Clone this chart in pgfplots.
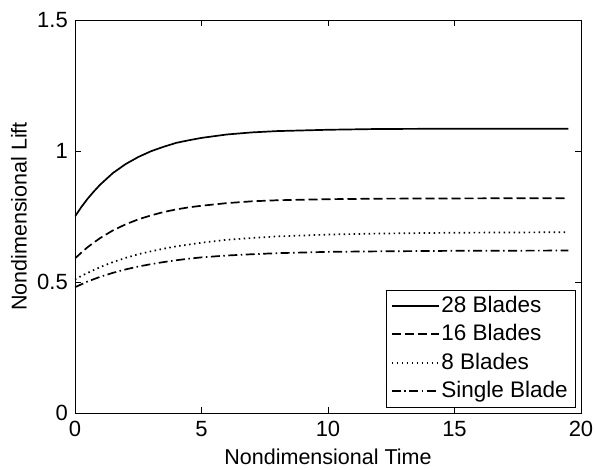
\documentclass[border=0pt]{standalone}
\usepackage{fontspec}
\setmainfont{Liberation Sans}
\usepackage{pgfplots}
\pgfplotsset{compat=1.18}
\begin{document}
\fontsize{21}{25}\selectfont
\begin{tikzpicture}
\begin{axis}[
  name=main,
  scale only axis,
  width=506pt, height=393pt,
  xmin=0, xmax=20, ymin=0, ymax=1.5,
  xtick={0,5,10,15,20}, ytick={0,0.5,1,1.5},
  tick align=inside,
  major tick length=6pt,
  tick style={black, line width=0.7pt},
  axis line style={line width=0.9pt},
  /pgf/number format/assume math mode=true,
  xticklabel style={font=\fontsize{22}{26}\selectfont, inner sep=0pt, yshift=-8pt},
  yticklabel style={font=\fontsize{22}{26}\selectfont, inner sep=0pt, xshift=-7pt},
  xlabel={\fontsize{21.5}{25}\selectfont Nondimensional Time},
  ylabel={\fontsize{21.5}{25}\selectfont Nondimensional Lift},
  xlabel style={at={(axis description cs:0.5,-0.1323)}, anchor=south, inner sep=0pt},
  ylabel style={at={(axis description cs:-0.0949,0.5)}, anchor=south, inner sep=0pt},
  legend cell align=left,
  legend style={at={(rel axis cs:0.988,0.015)}, anchor=south east,
    font=\fontsize{22.5}{26}\selectfont, draw=black,
    row sep=5pt, inner sep=4pt, inner xsep=5pt},
  legend image code/.code={\draw[#1] (0cm,0cm) -- (1.65cm,0cm);},
]
\addplot[black, line width=1.7pt, solid] coordinates {
(0,0.750) (0.25,0.786) (0.5,0.818) (0.75,0.846) (1,0.872) (1.5,0.916) (2,0.950) (2.5,0.977) (3,0.999) (3.5,1.016) (4,1.031) (4.5,1.041) (5,1.050) (6,1.063) (7,1.071) (8,1.076) (10,1.081) (12,1.084) (15,1.085) (19.5,1.085)};
\addlegendentry{28 Blades}
\addplot[black, line width=1.7pt, dash pattern=on 9pt off 4pt] coordinates {
(0,0.590) (0.25,0.612) (0.5,0.633) (0.75,0.651) (1,0.668) (1.5,0.697) (2,0.720) (2.5,0.739) (3,0.754) (3.5,0.767) (4,0.777) (4.5,0.785) (5,0.791) (6,0.801) (7,0.808) (8,0.812) (10,0.816) (12,0.818) (15,0.819) (19.5,0.820)};
\addlegendentry{16 Blades}
\addplot[black, line width=1.7pt, dash pattern=on 1.5pt off 3.5pt] coordinates {
(0,0.510) (0.25,0.523) (0.5,0.535) (0.75,0.546) (1,0.557) (1.5,0.576) (2,0.592) (2.5,0.606) (3,0.617) (3.5,0.627) (4,0.636) (4.5,0.643) (5,0.650) (6,0.661) (7,0.668) (8,0.674) (10,0.681) (12,0.685) (15,0.688) (19.5,0.690)};
\addlegendentry{8 Blades}
\addplot[black, line width=1.7pt, dash pattern=on 9pt off 3.5pt on 1.5pt off 3.5pt] coordinates {
(0,0.480) (0.25,0.491) (0.5,0.502) (0.75,0.511) (1,0.520) (1.5,0.535) (2,0.548) (2.5,0.559) (3,0.568) (3.5,0.576) (4,0.583) (4.5,0.589) (5,0.594) (6,0.601) (7,0.606) (8,0.610) (10,0.615) (12,0.617) (15,0.619) (19.5,0.620)};
\addlegendentry{Single Blade}
\end{axis}
\path ([xshift=-75pt,yshift=-57pt]main.south west) rectangle ([xshift=14pt,yshift=20pt]main.north east);
\end{tikzpicture}
\end{document}
